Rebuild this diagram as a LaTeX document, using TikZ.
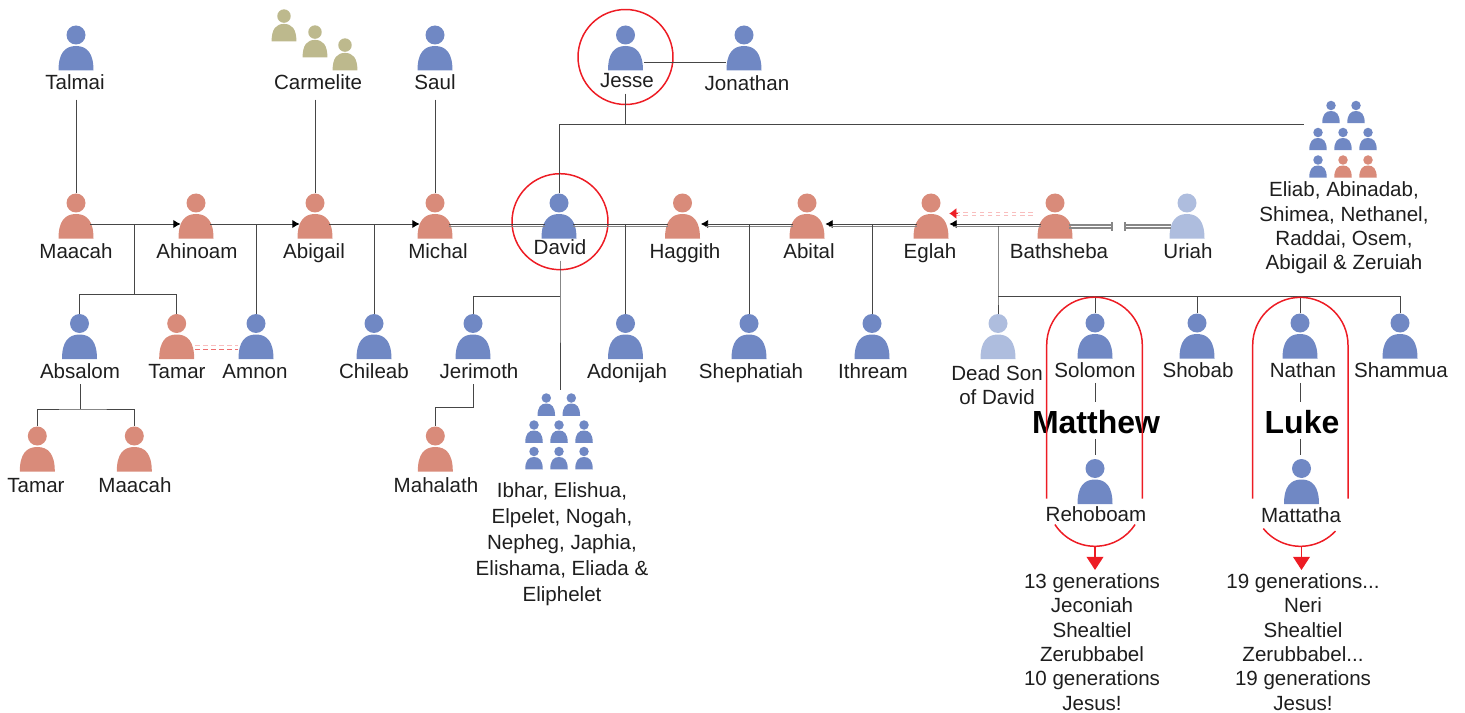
\documentclass[tikz,border=0pt]{standalone}
\usepackage{fontspec}
\setmainfont{Liberation Sans}
\usetikzlibrary{arrows, arrows.meta, calc}
\definecolor{Man}{RGB}{112,136,196}
\definecolor{Wom}{RGB}{217,139,122}
\definecolor{Ghost}{RGB}{174,189,222}
\definecolor{Olive}{RGB}{189,185,141}
\definecolor{Ring}{RGB}{237,28,36}
\definecolor{Ink}{RGB}{30,30,30}
\definecolor{Line}{RGB}{70,70,70}
\definecolor{Wedge}{RGB}{135,135,135}
\definecolor{PaleA}{RGB}{248,190,190}
\definecolor{PaleB}{RGB}{238,110,110}

\begin{document}
\begin{tikzpicture}[x=0.02cm, y=0.02cm]
        \tikzset{ person/.style 2 args={inner sep=0pt, minimum width=#2*0.72cm, minimum height=#2*1.22cm,
                  path picture={\begin{scope}[shift={(path picture bounding box.center)}]
                    \fill[#1] (0,21*#2) circle (9.5*#2);
                    \fill[#1] (-17.5*#2,-14.5*#2) .. controls (-17.5*#2,3*#2) and (-11*#2,10*#2) .. (0,10*#2) .. controls (11*#2,10*#2) and (17.5*#2,3*#2) .. (17.5*#2,-14.5*#2) -- cycle;
                  \end{scope}}} }
        \tikzset{ man/.style  ={person={Man}{1}} }
        \tikzset{ wom/.style  ={person={Wom}{1}} }
        \tikzset{ ghost/.style={person={Ghost}{1}} }
        \tikzset{ oli/.style  ={person={Olive}{0.71}} }
        \tikzset{ kidm/.style ={person={Man}{0.5}} }
        \tikzset{ kidw/.style ={person={Wom}{0.5}} }
        \tikzset{ nm/.style   ={font=\fontsize{11.7}{13.85}\selectfont, text=Ink, inner sep=0pt, anchor=base, text height=9pt, text depth=3pt} }
        \tikzset{ lst/.style  ={font=\fontsize{11.7}{13.85}\selectfont, text=Ink, inner sep=0pt, align=center} }
        \tikzset{ book/.style ={font=\fontsize{18.2}{20}\selectfont\bfseries, text=black, inner sep=0pt, anchor=base, text height=17.6pt, text depth=3.2pt} }
        \tikzset{ kin/.style  ={draw=Line, line width=0.55pt} }
        \tikzset{ hd/.style   ={->, >={Latex[black,length=4.2pt,width=4.8pt]}} }
        \tikzset{ wedge/.style={draw=Wedge, line width=0.6pt} }
        \tikzset{ ring/.style ={draw=Ring, line width=0.85pt} }
        \tikzset{ pale/.style ={line width=0.5pt, dash pattern=on 2.6pt off 2pt} }
        \useasboundingbox (0,-713) rectangle (1465,0);

        % top row
        \node[man] (talmai)    at (76,-56) {};
        \node[nm ] (talmai_l)  at (75,-90) {Talmai};
        \node[oli] (carm1)     at (284,-31) {};
        \node[oli] (carm2)     at (315,-47) {};
        \node[oli] (carm3)     at (345,-60) {};
        \node[nm ] (carm_l)    at (318,-90) {Carmelite};
        \node[man] (saul)      at (435,-56) {};
        \node[nm ] (saul_l)    at (435,-90) {Saul};
        \node[man] (jesse)     at (625.5,-56) {};
        \node[nm ] (jesse_l)   at (627,-88) {Jesse};
        \node[man] (jonathan)  at (744,-56) {};
        \node[nm ] (jonathan_l) at (747,-91) {Jonathan};
        \node[ring, circle, inner sep=0pt, minimum size=1.9cm] (jesse_c) at (625.5,-57) {};

        % brothers and sisters of David
        \node[kidm] (bro1) at (1331,-116) {};
        \node[kidm] (bro2) at (1356,-116) {};
        \node[kidm] (bro3) at (1318,-143) {};
        \node[kidm] (bro4) at (1343,-143) {};
        \node[kidm] (bro5) at (1368,-143) {};
        \node[kidm] (bro6) at (1318,-170.5) {};
        \node[kidw] (sis1) at (1343,-170.5) {};
        \node[kidw] (sis2) at (1368,-170.5) {};
        \node[lst ] (bro_l) at (1344,-228) {Eliab, Abinadab,\\Shimea, Nethanel,\\Raddai, Osem,\\Abigail \& Zeruiah};

        % David and wives
        \node[wom  ] (maacah)    at (76,-224) {};
        \node[nm   ] (maacah_l)  at (76,-258.5) {Maacah};
        \node[wom  ] (ahinoam)   at (196,-224) {};
        \node[nm   ] (ahinoam_l) at (197,-258.5) {Ahinoam};
        \node[wom  ] (abigail)   at (315,-224) {};
        \node[nm   ] (abigail_l) at (314,-258.5) {Abigail};
        \node[wom  ] (michal)    at (435,-224) {};
        \node[nm   ] (michal_l)  at (438,-258.5) {Michal};
        \node[man  ] (david)     at (559,-224) {};
        \node[nm   ] (david_l)   at (560,-255) {David};
        \node[ring, circle, inner sep=0pt, minimum size=1.92cm] (david_c) at (560,-221.7) {};
        \node[wom  ] (haggith)   at (682.5,-224) {};
        \node[nm   ] (haggith_l) at (685,-258.5) {Haggith};
        \node[wom  ] (abital)    at (807,-224) {};
        \node[nm   ] (abital_l)  at (809,-258.5) {Abital};
        \node[wom  ] (eglah)     at (931,-224) {};
        \node[nm   ] (eglah_l)   at (930,-258.5) {Eglah};
        \node[wom  ] (bathsheba) at (1055,-224) {};
        \node[nm   ] (bathsheba_l) at (1059,-258.5) {Bathsheba};
        \node[ghost] (uriah)     at (1187,-224) {};
        \node[nm   ] (uriah_l)   at (1188,-258.5) {Uriah};

        % children
        \node[man  ] (absalom)    at (79.5,-344.5) {};
        \node[nm   ] (absalom_l)  at (80,-378.5) {Absalom};
        \node[wom  ] (tamar)      at (176.7,-344.5) {};
        \node[nm   ] (tamar_l)    at (177,-378.5) {Tamar};
        \node[man  ] (amnon)      at (256,-344.5) {};
        \node[nm   ] (amnon_l)    at (255,-378.5) {Amnon};
        \node[man  ] (chileab)    at (374,-344.5) {};
        \node[nm   ] (chileab_l)  at (374,-378.5) {Chileab};
        \node[man  ] (jerimoth)   at (473,-344.5) {};
        \node[nm   ] (jerimoth_l) at (479,-378.5) {Jerimoth};
        \node[man  ] (adonijah)   at (625.5,-344.5) {};
        \node[nm   ] (adonijah_l) at (627,-378.5) {Adonijah};
        \node[man  ] (shephatiah) at (749,-344.5) {};
        \node[nm   ] (shephatiah_l) at (751,-378.5) {Shephatiah};
        \node[man  ] (ithream)    at (872,-344.5) {};
        \node[nm   ] (ithream_l)  at (873,-378.5) {Ithream};
        \node[ghost] (deadson)    at (998,-344.5) {};
        \node[lst  ] (deadson_l)  at (997,-385) {Dead Son\\of David};
        \node[man  ] (solomon)    at (1095,-344) {};
        \node[nm   ] (solomon_l)  at (1095,-377.3) {Solomon};
        \node[man  ] (shobab)     at (1197,-344) {};
        \node[nm   ] (shobab_l)   at (1198,-377.3) {Shobab};
        \node[man  ] (nathan)     at (1300,-344) {};
        \node[nm   ] (nathan_l)   at (1303,-377.3) {Nathan};
        \node[man  ] (shammua)    at (1400,-344) {};
        \node[nm   ] (shammua_l)  at (1401,-377.3) {Shammua};

        % grandchildren
        \node[wom] (tamar2)     at (37.3,-457) {};
        \node[nm ] (tamar2_l)   at (36,-492.5) {Tamar};
        \node[wom] (maacah2)    at (134.3,-457) {};
        \node[nm ] (maacah2_l)  at (135,-492.5) {Maacah};
        \node[wom] (mahalath)   at (435.3,-457) {};
        \node[nm ] (mahalath_l) at (436,-492.5) {Mahalath};

        \node[kidm] (ib1) at (546.3,-408.5) {};
        \node[kidm] (ib2) at (571.3,-408.5) {};
        \node[kidm] (ib3) at (534,-435.5) {};
        \node[kidm] (ib4) at (559,-435.5) {};
        \node[kidm] (ib5) at (584,-435.5) {};
        \node[kidm] (ib6) at (534,-462) {};
        \node[kidm] (ib7) at (559,-462) {};
        \node[kidm] (ib8) at (584,-462) {};
        \node[lst, font=\fontsize{11.7}{14.8}\selectfont] (ib_l) at (562,-544) {Ibhar, Elishua,\\Elpelet, Nogah,\\Nepheg, Japhia,\\Elishama, Eliada \&\\Eliphelet};

        % the two lines
        \node[book] (matthew)   at (1096,-433) {Matthew};
        \node[book] (luke)      at (1302,-433) {Luke};
        \node[man ] (rehoboam)  at (1095,-489.5) {};
        \node[nm  ] (rehoboam_l) at (1096,-521) {Rehoboam};
        \node[man ] (mattatha)  at (1301.5,-489.5) {};
        \node[nm  ] (mattatha_l) at (1301,-522.3) {Mattatha};
        \node[lst ] (mat_l) at (1092,-642) {13 generations\\Jeconiah\\Shealtiel\\Zerubbabel\\10 generations\\Jesus!};
        \node[lst ] (luk_l) at (1303,-642) {19 generations...\\Neri\\Shealtiel\\Zerubbabel...\\19 generations\\Jesus!};

        \coordinate (bro_end)  at (1304,-124);
        \coordinate (mch_br)   at (134,-224);
        \coordinate (mch_jn)   at (134,-294.5);
        \coordinate (abs_jn)   at (80,-409);
        \coordinate (dav_jn)   at (560,-296.7);
        \coordinate (dav_end)  at (560,-390);
        \coordinate (jer_jn)   at (473,-407);
        \coordinate (bat_br)   at (998,-226);
        \coordinate (bat_jn)   at (998,-296.5);
        \coordinate (sep_l)    at (1112,-226.5);
        \coordinate (sep_r)    at (1125,-226.5);
        \coordinate (mat_arc)  at (1095,-546.3);
        \coordinate (mat_tip)  at (1095,-570);
        \coordinate (luk_arc)  at (1301.5,-546.3);
        \coordinate (luk_tip)  at (1301.5,-570);

        % parents
        \draw[kin,shorten <=0.08cm] (maacah.north |- talmai_l.south) -- (maacah.north);
        \draw[kin,shorten <=0.08cm] (abigail.north |- carm_l.south) -- (abigail.north);
        \draw[kin,shorten <=0.08cm] (michal.north |- saul_l.south) -- (michal.north);
        \draw[kin] ([yshift=-0.12cm]jesse.east) -- ([yshift=-0.12cm]jesse.east -| jonathan.west);
        \draw[kin] (jesse.north |- jesse_l.south) -- (jesse.north |- bro_end);
        \draw[kin] (david.north) |- (bro_end);

        % wives
        \draw[kin,hd,shorten <=-0.08cm,shorten >=-0.06cm] (maacah.east) -- (ahinoam.west);
        \draw[kin,hd,shorten <=-0.08cm,shorten >=-0.06cm] (ahinoam.east) -- (abigail.west);
        \draw[kin,hd,shorten <=-0.08cm,shorten >=-0.06cm] (abigail.east) -- (michal.west);
        \draw[kin,shorten <=-0.08cm,shorten >=-0.08cm] (michal.east) -- (david.west);
        \draw[kin,shorten <=-0.08cm,shorten >=-0.08cm] (david.east) -- (haggith.west);
        \draw[kin,hd,shorten <=-0.08cm] (abital.west) -- (haggith.east);
        \draw[kin,hd,shorten <=-0.08cm] (eglah.west) -- (abital.east);
        \draw[kin,hd,shorten <=-0.08cm] (bathsheba.west) -- (eglah.east);
        \draw[wedge,shorten <=-0.08cm,shorten >=-0.08cm] ([yshift=-0.055cm]michal.east) -- ([yshift=-0.055cm]david.west);
        \draw[wedge,shorten <=-0.08cm,shorten >=-0.08cm] ([yshift=-0.055cm]david.east) -- ([yshift=-0.055cm]haggith.west);
        \draw[wedge,shorten <=0.08cm,shorten >=-0.08cm] ([yshift=-0.055cm]haggith.east) -- ([yshift=-0.055cm]abital.west);
        \draw[wedge,shorten <=0.08cm,shorten >=-0.08cm] ([yshift=-0.055cm]abital.east) -- ([yshift=-0.055cm]eglah.west);
        \draw[wedge,shorten <=0.08cm,shorten >=-0.08cm] ([yshift=-0.055cm]eglah.east) -- ([yshift=-0.055cm]bathsheba.west);

        % Bathsheba and Uriah
        \draw[wedge,shorten <=-0.08cm] ([yshift=0.03cm]bathsheba.east |- sep_l) -- ([yshift=0.03cm]sep_l);
        \draw[wedge,shorten <=-0.08cm] ([yshift=-0.03cm]bathsheba.east |- sep_l) -- ([yshift=-0.03cm]sep_l);
        \draw[wedge,shorten >=-0.04cm] ([yshift=0.03cm]sep_r) -- ([yshift=0.03cm]uriah.west |- sep_r);
        \draw[wedge,shorten >=-0.04cm] ([yshift=-0.03cm]sep_r) -- ([yshift=-0.03cm]uriah.west |- sep_r);
        \draw[wedge] ([yshift=0.09cm]sep_l) -- ([yshift=-0.09cm]sep_l);
        \draw[wedge] ([yshift=0.09cm]sep_r) -- ([yshift=-0.09cm]sep_r);
        \draw[PaleA, pale, shorten <=0.08cm, shorten >=0.14cm] ([yshift=0.24cm]bathsheba.west) -- ([yshift=0.24cm]eglah.east);
        \draw[PaleA, pale, shorten <=0.08cm, shorten >=0.14cm] ([yshift=0.18cm]bathsheba.west) -- ([yshift=0.18cm]eglah.east);
        \draw[Ring, -{Latex[length=4pt,width=6pt]}, line width=0.2pt] ([xshift=0.18cm,yshift=0.21cm]eglah.east) -- ([yshift=0.21cm]eglah.east);
        \draw[PaleA, pale] ([yshift=-0.01cm]tamar.east) -- ([yshift=-0.01cm]amnon.west);
        \draw[PaleB, pale] ([yshift=-0.096cm]tamar.east) -- ([yshift=-0.096cm]amnon.west);

        % children
        \draw[kin] (mch_br) -- (mch_jn);
        \draw[kin] (absalom.north) |- (mch_jn) -| (tamar.north);
        \draw[kin] (absalom_l.south) -- (abs_jn);
        \draw[kin] (tamar2.north) |- (abs_jn) -| (maacah2.north);
        \draw[kin] (amnon.north) -- (amnon.north |- ahinoam.east);
        \draw[kin] (chileab.north) -- (chileab.north |- abigail.east);
        \draw[kin] (david_l.south) -- (dav_jn) -- (dav_end);
        \draw[kin] (dav_jn) -| (jerimoth.north);
        \draw[kin] (jerimoth.north |- jerimoth_l.south) -- (jer_jn) -| (mahalath.north);
        \draw[kin] (adonijah.north) -- (adonijah.north |- david.east);
        \draw[kin] (shephatiah.north) -- (shephatiah.north |- david.east);
        \draw[kin] (ithream.north) -- (ithream.north |- david.east);
        \draw[kin] (bat_br) -- (bat_jn) -- (deadson.north);
        \draw[kin] (bat_jn) -| (shammua.north);
        \draw[kin] (solomon.north) -- (solomon.north |- bat_jn);
        \draw[kin] (shobab.north) -- (shobab.north |- bat_jn);
        \draw[kin] (nathan.north) -- (nathan.north |- bat_jn);
        \draw[kin] (solomon_l.south) -- (solomon_l.south |- matthew.north);
        \draw[kin,shorten >=0.08cm] (rehoboam.north |- matthew.south) -- (rehoboam.north);
        \draw[kin] (nathan.north |- nathan_l.south) -- (nathan.north |- luke.north);
        \draw[kin,shorten >=0.08cm] (nathan.north |- luke.south) -- (nathan.north |- mattatha.north);

        % Matthew
        \draw[ring] (1046.7,-498.5) -- (1046.7,-345) arc (180:0:47.8) -- (1142.3,-498.5);
        \draw[ring] ($(1095,-498.5)+(213:47.8)$) arc (213:327:47.8);
        \draw[ring, line width=1pt, -{Triangle[length=7.5pt,width=9.5pt]}] (mat_arc) -- (mat_tip);
        % Luke
        \draw[ring] (1252.7,-498.5) -- (1252.7,-345) arc (180:0:47.65) -- (1348,-498.5);
        \draw[ring] ($(1300.5,-498.5)+(219:47.8)$) arc (219:317:47.8);
        \draw[ring, line width=1pt, -{Triangle[length=7.5pt,width=9.5pt]}] (luk_arc) -- (luk_tip);
      \end{tikzpicture}
\end{document}
